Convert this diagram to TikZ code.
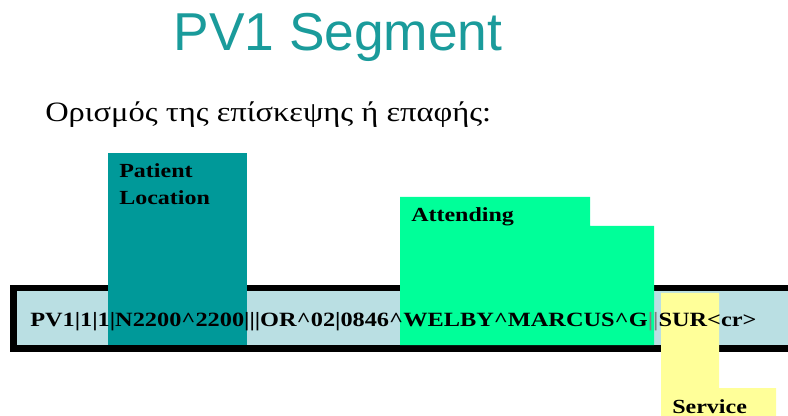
\documentclass[tikz,border=0pt]{standalone}
\usepackage{fontspec}
\setmainfont{Liberation Serif}
\newfontfamily\titlefont{Liberation Sans}
\definecolor{titleteal}{RGB}{26,155,155}
\definecolor{locteal}{RGB}{0,153,153}
\definecolor{barblue}{RGB}{186,223,227}
\definecolor{attgreen}{RGB}{0,255,153}
\definecolor{servyellow}{RGB}{255,255,153}
\newcommand{\widebold}[2][1.2]{\scalebox{#1}[1]{\bfseries #2}}
\tikzset{
  fieldlabel/.style={inner sep=0pt, anchor=base west, font=\fontsize{15}{18}\selectfont},
  msgtext/.style={inner sep=0pt, anchor=base west, font=\fontsize{15.2}{18}\selectfont}
}
\begin{document}
\begin{tikzpicture}[x=0.75pt, y=-0.75pt]
  \useasboundingbox (0,0) rectangle (788,416);
  \clip (0,0) rectangle (788,416);
  \fill[white] (0,0) rectangle (788,416);

  % heading
  \node[inner sep=0pt, text=titleteal, font=\titlefont\fontsize{40}{44}\selectfont]
    (title) at (338,37) {PV1 Segment};
  \node[inner sep=0pt, anchor=base west, font=\fontsize{21}{25}\selectfont]
    (subtitle) at (45,122) {\scalebox{1.16}[1]{Ορισμός της επίσκεψης ή επαφής:}};

  % message bar
  \fill[black] (10,285) rectangle (800,352);
  \fill[barblue] (17,291) rectangle (800,345);

  % highlighted fields
  \fill[locteal] (108,153) rectangle (247,345);
  \fill[attgreen] (400,197) -- (590,197) -- (590,226) -- (654,226)
    -- (654,345) -- (400,345) -- cycle;
  \fill[servyellow] (661,293) -- (719,293) -- (719,388) -- (776,388)
    -- (776,416) -- (661,416) -- cycle;

  % field labels
  \node[fieldlabel] (loc1) at (119,178) {\widebold{Patient}};
  \node[fieldlabel] (loc2) at (119,205) {\widebold{Location}};
  \node[fieldlabel] (att) at (411,222) {\widebold{Attending}};
  \node[fieldlabel] (serv) at (672,413) {\widebold{Service}};

  % segment text
  \node[msgtext] (msg) at (30,326)
    {\widebold[1.2]{PV1|1|1|N2200\^{}2200|||OR\^{}02|0846\^{}WELBY\^{}MARCUS\^{}G\textcolor{gray}{||}SUR<cr>}};
\end{tikzpicture}
\end{document}
